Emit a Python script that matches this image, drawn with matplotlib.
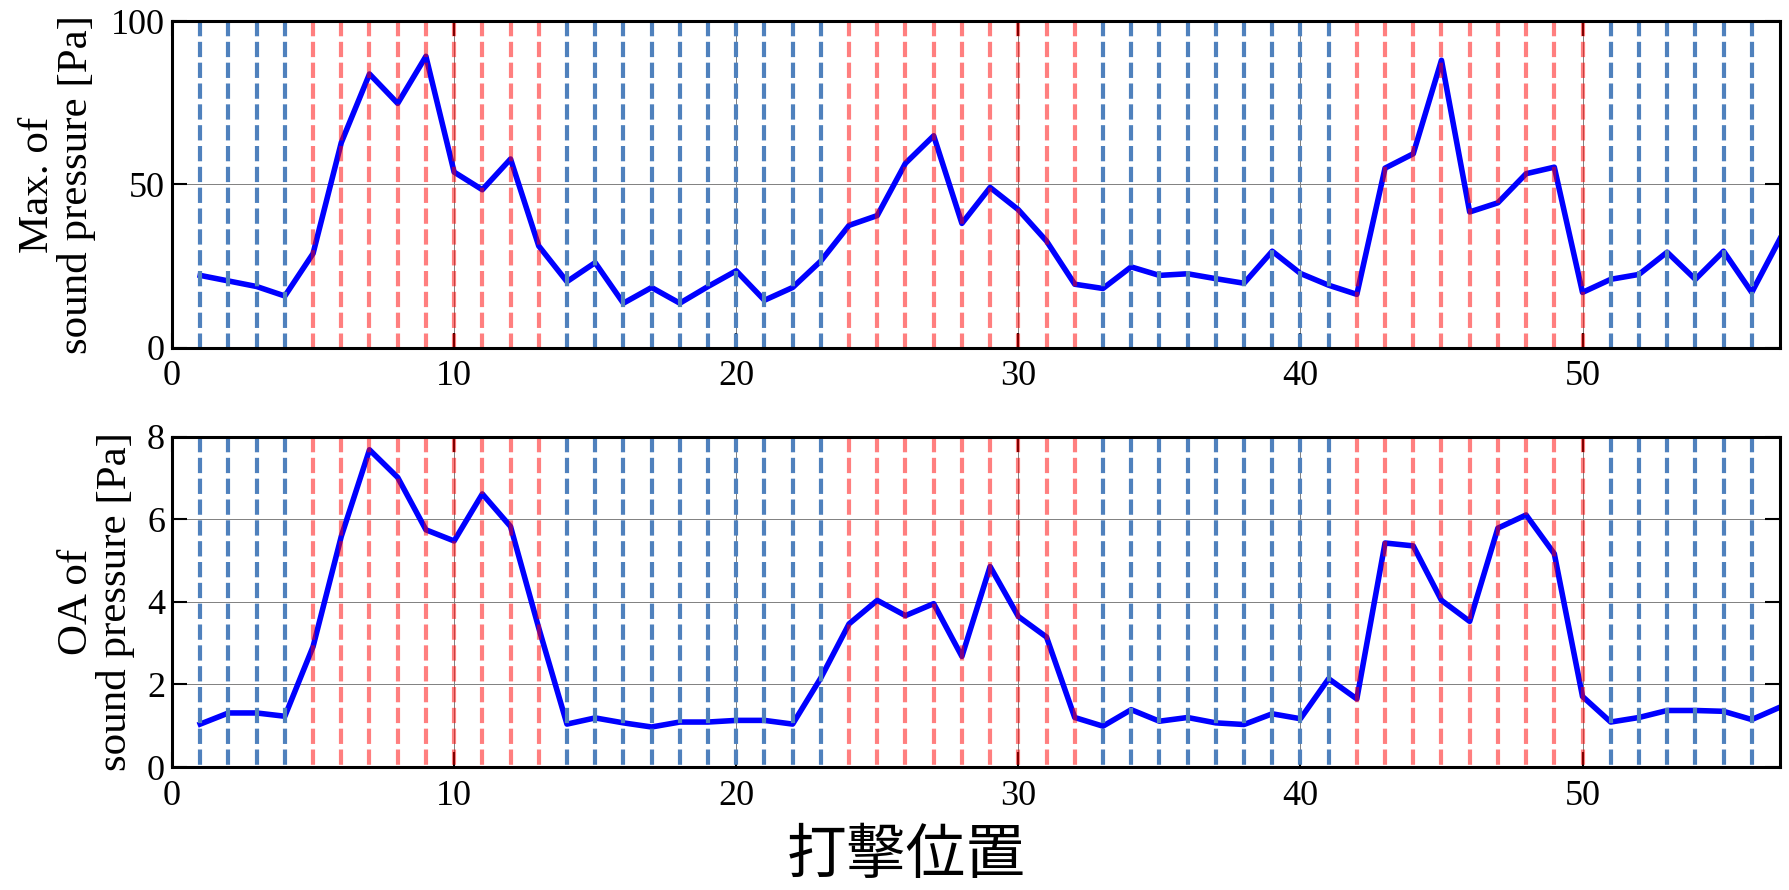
import numpy as np
import matplotlib
matplotlib.use('Agg')
import matplotlib.pyplot as plt

plt.rcParams['font.family'] = ['Liberation Serif', 'DejaVu Serif']
plt.rcParams['lines.scale_dashes'] = False

# strike positions 1..57
positions = np.arange(1, 58)

# max of sound pressure [Pa]
max_pressure = [22.2, 20.5, 18.8, 15.9, 28.9, 62.8, 83.8, 74.8, 89.2, 53.8,
                48.4, 57.8, 31.2, 20.3, 26.1, 13.7, 18.5, 13.7, 18.8, 23.6,
                14.6, 18.5, 26.6, 37.5, 40.5, 56.5, 64.9, 38.1, 49.1, 42.3,
                32.7, 19.5, 18.2, 24.8, 22.2, 22.7, 21.2, 19.8, 29.6, 22.8,
                19.2, 16.4, 55.0, 59.4, 88.0, 41.6, 44.4, 53.3, 55.3, 17.0,
                21.0, 22.5, 29.3, 21.0, 29.6, 17.0, 33.4]

# OA of sound pressure [Pa]
oa_pressure = [1.04, 1.31, 1.31, 1.23, 2.92, 5.59, 7.69, 7.02, 5.75, 5.48,
               6.62, 5.83, 3.37, 1.04, 1.19, 1.07, 0.97, 1.09, 1.09, 1.13,
               1.13, 1.04, 2.16, 3.47, 4.04, 3.67, 3.96, 2.68, 4.86, 3.65,
               3.15, 1.20, 0.99, 1.39, 1.11, 1.20, 1.07, 1.03, 1.29, 1.17,
               2.14, 1.65, 5.43, 5.36, 4.04, 3.53, 5.79, 6.11, 5.17, 1.71,
               1.09, 1.20, 1.37, 1.37, 1.35, 1.15, 1.45]

# vertical marker lines, red ones mark the zones
marker_pos = list(range(1, 57))
red_pos = list(range(5, 14)) + list(range(24, 33)) + list(range(42, 51))

xticks = [0, 10, 20, 30, 40, 50]

fig = plt.figure(figsize=(17.9, 8.9), dpi=100)
ax1 = fig.add_axes([0.0961, 0.609, 0.8983, 0.3674])
ax2 = fig.add_axes([0.0961, 0.1382, 0.8983, 0.3708])


def draw(ax, vals, ymax, yticks, ylabel, label_x):
    ax.set_xlim(0, 57)
    ax.set_ylim(0, ymax)
    ax.set_xticks(xticks)
    ax.set_yticks(yticks)
    ax.grid(True, color='#808080', lw=0.7)
    ax.set_axisbelow(True)
    ax.plot(positions, vals, color='#0000ff', lw=4, zorder=2)
    for p in marker_pos:
        if p in red_pos:
            ax.plot([p, p], [ymax, 0], color='red', alpha=0.5, lw=3, dashes=(11, 4), zorder=3)
        else:
            ax.plot([p, p], [ymax, 0], color='#4f81bd', lw=3, dashes=(11, 4), zorder=3)
    ax.tick_params(direction='in', length=11, width=1.5, top=True, right=True,
                   labelsize=26)
    ax.tick_params(axis='x', pad=9)
    ax.tick_params(axis='y', pad=5)
    for s in ax.spines.values():
        s.set_linewidth(2.2)
        s.set_zorder(5)
    ax.set_ylabel(ylabel, fontsize=31, linespacing=1.0)
    ax.yaxis.set_label_coords(label_x, 0.5)


draw(ax1, max_pressure, 100, [0, 50, 100], 'Max. of\nsound pressure [Pa]', -0.047)
draw(ax2, oa_pressure, 8, [0, 2, 4, 6, 8], 'OA of\nsound pressure [Pa]', -0.023)

fig.text(0.506, 0.038, '打擊位置', fontsize=43, ha='center', va='center',
         family=['Noto Sans CJK JP', 'DejaVu Sans'])

fig.savefig('out.png', dpi=100)
